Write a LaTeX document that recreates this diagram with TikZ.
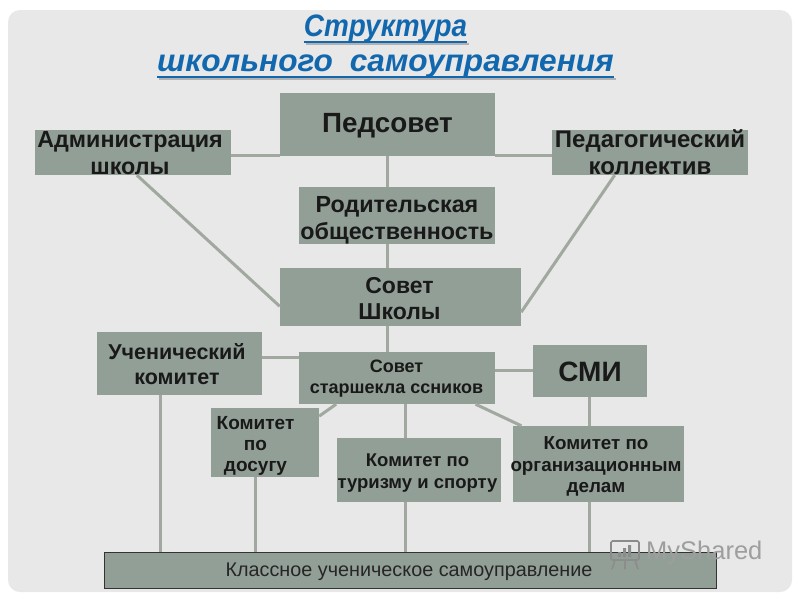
\documentclass[tikz,border=0pt]{standalone}
\usepackage{fontspec}
\setmainfont{Liberation Sans}
\usetikzlibrary{calc}
\definecolor{boxc}{HTML}{929F96}
\definecolor{linec}{HTML}{A0A89F}
\definecolor{panelc}{HTML}{E7E8E7}
\definecolor{titlec}{HTML}{1268AE}
\newcommand{\fs}[2]{\fontsize{#1}{#2}\selectfont}
\tikzset{
  orgbox/.style={fill=boxc,inner sep=0pt,align=center,text=black!90},
  label/.style={inner sep=0pt,align=center,text=black!90},
  link/.style={draw=linec,line width=3pt},
  titletext/.style={font=\fs{31}{36}\bfseries\itshape,text=titlec,inner sep=0pt,text height=23pt,text depth=5pt},
  titlerule/.style={draw=titlec,line width=2.4pt},
  ruleshadow/.style={draw=black!30,line width=2.4pt}
}
\begin{document}
\begin{tikzpicture}[x=1pt,y=1pt]
\useasboundingbox (0,0) rectangle (800,-600);
\fill[white] (0,0) rectangle (800,-600);
\fill[panelc,rounded corners=12pt] (8,-10) rectangle (792,-592);
% title
\node[titletext] (t1) at (385.5,-27) {\scalebox{0.9}[1]{Структура}};
\node[titletext] (t2) at (385.5,-62) {\scalebox{1.02}[1]{школьного\hspace{8pt} самоуправления}};
\draw[ruleshadow] ([shift={(2,-3)}]t1.south west) -- ([shift={(2,-3)}]t1.south east);
\draw[ruleshadow] ([shift={(2,-3)}]t2.south west) -- ([shift={(2,-3)}]t2.south east);
\draw[titlerule] ([yshift=-1pt]t1.south west) -- ([yshift=-1pt]t1.south east);
\draw[titlerule] ([yshift=-1pt]t2.south west) -- ([yshift=-1pt]t2.south east);
% boxes
\node[orgbox,minimum width=215pt,minimum height=63pt] (ped) at (387.5,-124.5) {};
\node[orgbox,minimum width=196pt,minimum height=45pt] (adm) at (133,-152.5) {};
\node[orgbox,minimum width=196pt,minimum height=45pt] (kol) at (650,-152.5) {};
\node[orgbox,minimum width=196pt,minimum height=57pt] (rod) at (397,-215.5) {};
\node[orgbox,minimum width=241pt,minimum height=58pt] (sov) at (400.5,-297) {};
\node[orgbox,minimum width=165pt,minimum height=63pt] (uch) at (179.5,-363.5) {};
\node[orgbox,minimum width=196pt,minimum height=52pt] (sta) at (397,-378) {};
\node[orgbox,minimum width=114pt,minimum height=52pt] (smi) at (590,-371) {};
\node[orgbox,minimum width=108pt,minimum height=69pt] (dos) at (265,-442.5) {};
\node[orgbox,minimum width=164pt,minimum height=64pt] (tur) at (419,-470) {};
\node[orgbox,minimum width=171pt,minimum height=76pt] (org) at (598.5,-464) {};
\node[fill=boxc,draw=black!80,line width=1pt,minimum width=612pt,minimum height=36pt,inner sep=0pt] (kla) at (410,-570) {};
% texts
\node[label,font=\fs{27.8}{30}\bfseries] (pedt) at (387.5,-126) {Педсовет};
\node[label,font=\fs{28}{30}\bfseries] (smit) at (590,-372) {СМИ};
\node[label,font=\fs{23.3}{27}\bfseries] (admt) at (130,-153) {Администрация\\школы};
\node[label,font=\fs{24}{27}\bfseries] (kolt) at (650,-152.5) {Педагогический\\коллектив};
\node[label,font=\fs{23.3}{27}\bfseries] (rodt) at (397,-220) {Родительская\\общественность};
\node[label,font=\fs{23}{26}\bfseries] (sovt) at (399.5,-298.5) {Совет\\Школы};
\node[label,font=\fs{21.5}{25}\bfseries] (ucht) at (177,-364.5) {Ученический\\комитет};
\node[label,font=\fs{18}{21}\bfseries] (stat) at (396.5,-378.5) {Совет\hspace{8pt}\\старшекла ссников};
\node[label,font=\fs{19}{21}\bfseries] (dost) at (255.5,-446) {Комитет\\по\\досугу};
\node[label,font=\fs{18.5}{22}\bfseries] (turt) at (417.5,-473) {Комитет по\\туризму и спорту};
\node[label,font=\fs{18.8}{21.5}\bfseries] (orgt) at (596,-466.5) {Комитет по\\организационным\\делам};
\node[label,font=\fs{19.8}{24},text=black!85] (klat) at (409,-572) {Классное ученическое самоуправление};
% connectors
\coordinate (p1) at ([yshift=1pt]ped.south west);
\coordinate (p2) at ([yshift=1pt]ped.south east);
\draw[link] (p1-|adm.east) -- (p1);
\draw[link] (p2) -- (p2-|kol.west);
\draw[link] (ped.south) -- (ped.south|-rod.north);
\draw[link] (ped.south|-rod.south) -- (ped.south|-sov.north);
\draw[link] (ped.south|-sov.south) -- (ped.south|-sta.north);
\coordinate (uc) at ($(uch.north east)!0.41!(uch.south east)$);
\draw[link] (uc) -- (uc-|sta.west);
\coordinate (sm) at ($(sta.north east)!0.35!(sta.south east)$);
\draw[link] (sm) -- (sm-|smi.west);
\coordinate (a1) at ($(adm.south west)!0.52!(adm.south east)$);
\coordinate (a2) at ($(sov.north west)!0.66!(sov.south west)$);
\draw[link] (a1) -- (a2);
\coordinate (k1) at ($(kol.south west)!0.32!(kol.south east)$);
\coordinate (k2) at ($(sov.north east)!0.76!(sov.south east)$);
\draw[link] (k1) -- (k2);
\coordinate (u1) at ($(uch.south west)!0.385!(uch.south east)$);
\draw[link] (u1) -- (u1|-kla.north);
\coordinate (d1) at ($(dos.south west)!0.41!(dos.south east)$);
\draw[link] (d1) -- (d1|-kla.north);
\coordinate (s1) at ($(sta.south west)!0.545!(sta.south east)$);
\draw[link] (s1) -- (s1|-tur.north);
\draw[link] (s1|-tur.south) -- (s1|-kla.north);
\coordinate (m1) at ($(org.north west)!0.445!(org.north east)$);
\draw[link] (m1|-smi.south) -- (m1);
\draw[link] (m1|-org.south) -- (m1|-kla.north);
\draw[link] ($(sta.south west)!0.19!(sta.south east)$) -- ($(dos.north east)!0.12!(dos.south east)$);
\draw[link] ($(sta.south west)!0.90!(sta.south east)$) -- ($(org.north west)!0.05!(org.north east)$);
% watermark
\node[font=\fs{25.5}{28},text=black!38,inner sep=0pt,anchor=west] (wm) at (646,-553) {MyShared};
\draw[black!45,line width=1.6pt,rounded corners=1.5pt] (611,-541) rectangle (639,-560);
\draw[black!45,line width=1.6pt] (615,-560) -- (612,-569) (625,-560) -- (625,-569) (635,-560) -- (638,-569);
\fill[black!45] (618,-557) rectangle (621,-552) (623,-557) rectangle (626,-548) (628,-557) rectangle (631,-545);
\end{tikzpicture}
\end{document}
